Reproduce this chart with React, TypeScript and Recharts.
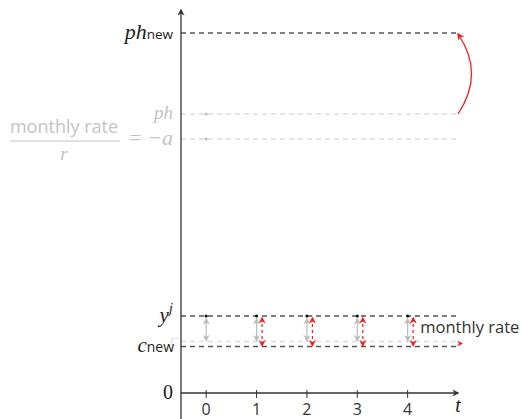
import {
  ComposedChart, XAxis, YAxis, Scatter, ReferenceLine, ReferenceDot,
} from 'recharts';

// time axis
const periods = [0, 1, 2, 3, 4];
const T_MIN = -0.5;
const T_MAX = 5;

// levels on the vertical axis (arbitrary units)
const levelKeys = ['phNew', 'ph', 'negA', 'yj', 'c', 'cNew', 'zero'];
const levelValues = [36.0, 27.9, 25.4, 7.7, 5.15, 4.65, 0];
const darkLevels = ['phNew', 'yj', 'cNew'];
const fadedLevels = ['ph', 'negA', 'c'];
const Y_TOP = 38.3;
const Y_FLOOR = -2.6;

const grayArrowPeriods = [0, 1, 2, 3, 4];
const redArrowPeriods = [1, 2, 3, 4];
const RED_SHIFT = 0.11;

const lv = (k: string) => levelValues[levelKeys.indexOf(k)];

const DARK = '#555';
const FADED = '#dcdcdc';
const FADED_TEXT = '#c4c4c4';
const AXIS = '#333';
const RED = '#ff1a1a';
const SANS = '"Open Sans", sans-serif';
const MATH = '"Liberation Serif", serif';

const dotData = periods.map(t => ({ t, v: lv('yj') }));

// eslint-disable-next-line @typescript-eslint/no-explicit-any
const LevelTick = ({ x, y, payload }: any) => {
  const key = levelKeys[levelValues.indexOf(payload.value)];
  const rx = x - 8;
  if (key === 'phNew') {
    return (
      <text x={rx} y={y + 6} textAnchor="end" fill="#222">
        <tspan fontFamily={MATH} fontStyle="italic" fontSize={22}>ph</tspan>
        <tspan fontFamily={SANS} fontSize={13.5}>new</tspan>
      </text>
    );
  }
  if (key === 'ph') {
    return (
      <text x={rx} y={y + 5} textAnchor="end" fill={FADED_TEXT}
        fontFamily={MATH} fontStyle="italic" fontSize={19}>ph</text>
    );
  }
  if (key === 'negA') {
    return (
      <g fill={FADED_TEXT}>
        <text x={rx} y={y + 6} textAnchor="end" fontFamily={MATH} fontSize={22}>
          = <tspan fontStyle="italic">−a</tspan>
        </text>
        <text x={x - 117} y={y - 6} textAnchor="middle" fontFamily={SANS} fontSize={18}>monthly rate</text>
        <line x1={x - 171} x2={x - 61} y1={y + 2} y2={y + 2} stroke={FADED_TEXT} strokeWidth={1.2} />
        <text x={x - 117} y={y + 21} textAnchor="middle" fontFamily={MATH} fontStyle="italic" fontSize={19}>r</text>
      </g>
    );
  }
  if (key === 'yj') {
    return (
      <text x={rx} y={y + 6} textAnchor="end" fill="#222" fontFamily={MATH} fontStyle="italic" fontSize={21}>
        y<tspan fontSize={15} dy={-9}>j</tspan>
      </text>
    );
  }
  if (key === 'c') {
    return (
      <text x={x - 3} y={y + 4} textAnchor="end" fill="#e4e4e4" fontFamily={MATH} fontStyle="italic" fontSize={18}>c</text>
    );
  }
  if (key === 'cNew') {
    return (
      <text x={x - 7} y={y + 5} textAnchor="end" fill="#222">
        <tspan fontFamily={MATH} fontStyle="italic" fontSize={21}>c</tspan>
        <tspan fontFamily={SANS} fontSize={14}>new</tspan>
      </text>
    );
  }
  return (
    <text x={rx} y={y + 6} textAnchor="end" fill="#222" fontFamily={MATH} fontSize={20}>0</text>
  );
};

// eslint-disable-next-line @typescript-eslint/no-explicit-any
const TimeTick = ({ x, y, payload }: any) => (
  <g>
    <line x1={x} x2={x} y1={y - 3} y2={y + 5} stroke={AXIS} strokeWidth={1} />
    <text x={x} y={y + 22} textAnchor="middle" fill="#333" fontFamily={SANS} fontSize={16}>{payload.value}</text>
  </g>
);

// eslint-disable-next-line @typescript-eslint/no-explicit-any
const axisShape = (props: any) => (
  <line x1={props.x1} y1={props.y1} x2={props.x2} y2={props.y2}
    stroke={AXIS} strokeWidth={1.3} markerEnd="url(#axisHead)" />
);

// eslint-disable-next-line @typescript-eslint/no-explicit-any
const dashedShape = (color: string) => (props: any) => (
  <line x1={props.x1} y1={props.y1} x2={props.x2} y2={props.y2}
    stroke={color} strokeWidth={1.3} strokeDasharray="5 4" />
);

// eslint-disable-next-line @typescript-eslint/no-explicit-any
const grayArrow = (props: any) => (
  <line x1={props.x1} y1={props.y1 + 3} x2={props.x2} y2={props.y2 - 1}
    stroke="#bbb" strokeWidth={1.2} markerStart="url(#grayHead)" markerEnd="url(#grayHead)" />
);

// eslint-disable-next-line @typescript-eslint/no-explicit-any
const redArrow = (props: any) => (
  <line x1={props.x1} y1={props.y1 + 2} x2={props.x2} y2={props.y2 - 1}
    stroke={RED} strokeWidth={1.2} strokeDasharray="3 3"
    markerStart="url(#redHead)" markerEnd="url(#redHead)" />
);

// eslint-disable-next-line @typescript-eslint/no-explicit-any
const arcArrow = (props: any) => {
  const { x1, y1, x2, y2 } = props;
  return (
    <path d={`M${x1},${y1} Q${x1 + 27},${(y1 + y2) / 2} ${x2},${y2 + 1}`}
      fill="none" stroke={RED} strokeWidth={1.3} markerEnd="url(#redHead)" />
  );
};

export default function App() {
  return (
    <div style={{ position: 'absolute', left: 0, top: 0, background: '#fff' }}>
      <ComposedChart
        width={523} height={419} data={dotData}
        margin={{ top: 10, right: 65, bottom: 0, left: 0 }}
      >
        <defs>
          <marker id="axisHead" viewBox="0 0 10 10" refX="8" refY="5" markerWidth="7" markerHeight="7"
            markerUnits="userSpaceOnUse" orient="auto-start-reverse">
            <path d="M0,0 L10,5 L0,10 L3,5 Z" fill={AXIS} />
          </marker>
          <marker id="redHead" viewBox="0 0 10 10" refX="8" refY="5" markerWidth="7" markerHeight="7"
            markerUnits="userSpaceOnUse" orient="auto-start-reverse">
            <path d="M0,0 L10,5 L0,10 L3,5 Z" fill={RED} />
          </marker>
          <marker id="grayHead" viewBox="0 0 10 10" refX="8" refY="5" markerWidth="7" markerHeight="7"
            markerUnits="userSpaceOnUse" orient="auto-start-reverse">
            <path d="M0,0 L10,5 L0,10 L3,5 Z" fill="#bbb" />
          </marker>
        </defs>
        <XAxis
          type="number" dataKey="t" domain={[T_MIN, T_MAX]} ticks={periods}
          allowDataOverflow axisLine={false} tickLine={false} tickSize={0} tickMargin={0}
          height={26} tick={<TimeTick />} interval={0}
        />
        <YAxis
          type="number" domain={[0, Y_TOP]} ticks={levelValues}
          allowDataOverflow axisLine={false} tickLine={false} tickSize={0} tickMargin={0}
          width={181} tick={<LevelTick />} interval={0}
        />

        {fadedLevels.map(k => (
          <ReferenceLine key={k} ifOverflow="visible"
            segment={[{ x: T_MIN, y: lv(k) }, { x: T_MAX, y: lv(k) }]}
            shape={dashedShape(FADED)} />
        ))}
        {darkLevels.map(k => (
          <ReferenceLine key={k} ifOverflow="visible"
            segment={[{ x: T_MIN, y: lv(k) }, { x: T_MAX, y: lv(k) }]}
            shape={dashedShape(DARK)} />
        ))}

        {/* axes with arrow heads */}
        <ReferenceLine ifOverflow="visible"
          segment={[{ x: T_MIN, y: Y_FLOOR }, { x: T_MIN, y: Y_TOP }]} shape={axisShape} />
        <ReferenceLine ifOverflow="visible"
          segment={[{ x: T_MIN, y: 0 }, { x: T_MAX, y: 0 }]} shape={axisShape} />
        <ReferenceDot x={T_MAX} y={0} ifOverflow="visible"
          // eslint-disable-next-line @typescript-eslint/no-explicit-any
          shape={(p: any) => (
            <text x={p.cx} y={p.cy + 19} textAnchor="middle" fill="#222"
              fontFamily={MATH} fontStyle="italic" fontSize={20}>t</text>
          )} />

        {/* faded markers at t = 0 */}
        {['ph', 'negA'].map(k => (
          <ReferenceDot key={k} x={0} y={lv(k)} r={1.5} fill="#bbb" stroke="none" ifOverflow="visible" />
        ))}

        {grayArrowPeriods.map(t => (
          <ReferenceLine key={`g${t}`} ifOverflow="visible"
            segment={[{ x: t, y: lv('yj') }, { x: t, y: lv('c') }]} shape={grayArrow} />
        ))}
        {redArrowPeriods.map(t => (
          <ReferenceLine key={`r${t}`} ifOverflow="visible"
            segment={[{ x: t + RED_SHIFT, y: lv('yj') }, { x: t + RED_SHIFT, y: lv('cNew') }]} shape={redArrow} />
        ))}

        <ReferenceLine ifOverflow="visible"
          segment={[{ x: T_MAX, y: lv('ph') }, { x: T_MAX, y: lv('phNew') }]} shape={arcArrow} />

        <ReferenceDot x={T_MAX} y={lv('cNew')} ifOverflow="visible"
          // eslint-disable-next-line @typescript-eslint/no-explicit-any
          shape={(p: any) => (
            <path d={`M${p.cx - 1},${p.cy - 6} L${p.cx + 5},${p.cy - 3} L${p.cx - 1},${p.cy} L${p.cx + 1},${p.cy - 3} Z`} fill={RED} />
          )} />
        <ReferenceDot x={4.25} y={(lv('yj') + lv('cNew')) / 2 + 0.45} ifOverflow="visible"
          // eslint-disable-next-line @typescript-eslint/no-explicit-any
          shape={(p: any) => (
            <text x={p.cx} y={p.cy + 6} fill="#333" fontFamily={SANS} fontSize={16.5}>monthly rate</text>
          )} />

        <Scatter dataKey="v" isAnimationActive={false} fill="#111"
          // eslint-disable-next-line @typescript-eslint/no-explicit-any
          shape={(p: any) => <circle cx={p.cx} cy={p.cy} r={1.6} fill="#111" />} />
      </ComposedChart>
    </div>
  );
}
